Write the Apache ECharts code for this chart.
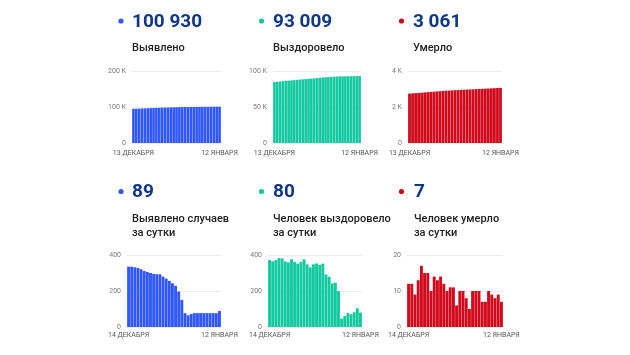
<!DOCTYPE html>
<html><head><meta charset="utf-8">
<script src="https://cdn.jsdelivr.net/npm/echarts@6/dist/echarts.min.js"></script>
<style>html,body{margin:0;padding:0;background:#fff}#c{width:630px;height:355px}</style>
</head><body><div id="c"></div>
<script>
const datesCum = ['13 ДЕКАБРЯ','14 ДЕКАБРЯ','15 ДЕКАБРЯ','16 ДЕКАБРЯ','17 ДЕКАБРЯ','18 ДЕКАБРЯ','19 ДЕКАБРЯ','20 ДЕКАБРЯ','21 ДЕКАБРЯ','22 ДЕКАБРЯ','23 ДЕКАБРЯ','24 ДЕКАБРЯ','25 ДЕКАБРЯ','26 ДЕКАБРЯ','27 ДЕКАБРЯ','28 ДЕКАБРЯ','29 ДЕКАБРЯ','30 ДЕКАБРЯ','31 ДЕКАБРЯ','1 ЯНВАРЯ','2 ЯНВАРЯ','3 ЯНВАРЯ','4 ЯНВАРЯ','5 ЯНВАРЯ','6 ЯНВАРЯ','7 ЯНВАРЯ','8 ЯНВАРЯ','9 ЯНВАРЯ','10 ЯНВАРЯ','11 ЯНВАРЯ','12 ЯНВАРЯ'];
const datesDaily = ['14 ДЕКАБРЯ','15 ДЕКАБРЯ','16 ДЕКАБРЯ','17 ДЕКАБРЯ','18 ДЕКАБРЯ','19 ДЕКАБРЯ','20 ДЕКАБРЯ','21 ДЕКАБРЯ','22 ДЕКАБРЯ','23 ДЕКАБРЯ','24 ДЕКАБРЯ','25 ДЕКАБРЯ','26 ДЕКАБРЯ','27 ДЕКАБРЯ','28 ДЕКАБРЯ','29 ДЕКАБРЯ','30 ДЕКАБРЯ','31 ДЕКАБРЯ','1 ЯНВАРЯ','2 ЯНВАРЯ','3 ЯНВАРЯ','4 ЯНВАРЯ','5 ЯНВАРЯ','6 ЯНВАРЯ','7 ЯНВАРЯ','8 ЯНВАРЯ','9 ЯНВАРЯ','10 ЯНВАРЯ','11 ЯНВАРЯ','12 ЯНВАРЯ'];

const casesCum = [94937,95272,95607,95939,96267,96588,96899,97205,97505,97800,98093,98386,98666,98935,99191,99434,99663,99860,100011,100088,100153,100225,100302,100379,100456,100533,100610,100687,100764,100841,100930];
const recoveredCum = [84729,85101,85466,85838,86221,86602,86967,87326,87702,88063,88415,88776,89152,89500,89831,90179,90532,90878,91230,91522,91801,92043,92289,92488,92534,92594,92672,92743,92825,92929,93009];
const deathsCum = [2747,2759,2771,2780,2793,2810,2825,2840,2850,2864,2877,2891,2903,2913,2924,2935,2941,2951,2961,2969,2974,2984,2994,3004,3011,3018,3028,3037,3045,3054,3061];

const casesDaily = [335,335,332,328,321,311,306,300,295,293,293,280,269,256,243,229,197,151,77,65,72,77,77,77,77,77,77,77,77,89];
const recoveredDaily = [372,365,372,383,381,365,359,376,361,352,361,376,348,331,348,353,346,352,292,279,242,246,199,46,60,78,71,82,104,80];
const deathsDaily = [12,12,9,13,17,15,15,10,14,13,14,12,10,11,11,6,10,10,8,5,10,10,10,7,7,10,9,8,9,7];

const headlines = ['100 930','93 009','3 061','89','80','7'];
const titles = ['Выявлено','Выздоровело','Умерло','Выявлено случаев\nза сутки','Человек выздоровело\nза сутки','Человек умерло\nза сутки'];
const yMax = [200000,100000,4000,400,400,20];
const yStep = [100000,50000,2000,200,200,10];

const BLUE='#3157ff', TEAL='#12c9a0', RED='#d0091c', NAVY='#0f3889';
const colors=[BLUE,TEAL,RED,BLUE,TEAL,RED];
const panels=[
 {cats:datesCum,data:casesCum,left:132,right:221,top:71,bottom:143,tx:132,dot:121,ny:21,ty:41,k:true},
 {cats:datesCum,data:recoveredCum,left:273,right:361,top:71,bottom:143,tx:273,dot:261.5,ny:21,ty:41,k:true},
 {cats:datesCum,data:deathsCum,left:408,right:502,top:71,bottom:143,tx:413,dot:401.5,ny:21,ty:41,k:true},
 {cats:datesDaily,data:casesDaily,left:127,right:221,top:255,bottom:327,tx:132,dot:121,ny:191.5,ty:212.5,k:false},
 {cats:datesDaily,data:recoveredDaily,left:268,right:362,top:255,bottom:327,tx:273,dot:261.5,ny:191.5,ty:212.5,k:false},
 {cats:datesDaily,data:deathsDaily,left:407,right:503,top:255,bottom:327,tx:414,dot:401.5,ny:191.5,ty:212.5,k:false}
];
const FONT='Roboto';
const grid=[],xAxis=[],yAxis=[],series=[],graphic=[];
panels.forEach((p,i)=>{
  grid.push({left:p.left,width:p.right-p.left,top:p.top,height:p.bottom-p.top,containLabel:false});
  const n=p.cats.length;
  xAxis.push({type:'category',gridIndex:i,data:p.cats,axisLine:{show:false},axisTick:{show:false},
    axisLabel:{interval:(idx)=>idx===0||idx===n-1,fontFamily:FONT,fontSize:7,color:'#555',margin:p.k?7:5,hideOverlap:false}});
  yAxis.push({type:'value',gridIndex:i,min:0,max:yMax[i],interval:yStep[i],axisLine:{show:false},axisTick:{show:false},
    splitLine:{lineStyle:{color:'#ebebeb',width:1}},
    axisLabel:{fontFamily:FONT,fontSize:7,color:'#777',margin:6,
      formatter:v=>p.k?(v===0?'0':(v/1000)+' K'):String(v)}});
  series.push({type:'bar',xAxisIndex:i,yAxisIndex:i,data:p.data,barCategoryGap:'8%',itemStyle:{color:colors[i]},silent:true,animation:false});
  graphic.push({type:'circle',shape:{cx:p.dot,cy:p.ny,r:2.6},style:{fill:colors[i]},silent:true});
  graphic.push({type:'text',x:p.tx,y:p.ny+1,style:{text:headlines[i],font:'bold 19px '+FONT,fill:NAVY,verticalAlign:'middle'}});
  graphic.push({type:'text',left:p.tx,top:p.ty,style:{text:titles[i],font:'500 11px '+FONT,fill:'#222',lineHeight:14}});
});
const chart=echarts.init(document.getElementById('c'),null,{renderer:'canvas'});
chart.setOption({animation:false,grid,xAxis,yAxis,series,graphic});
</script>
</body></html>
